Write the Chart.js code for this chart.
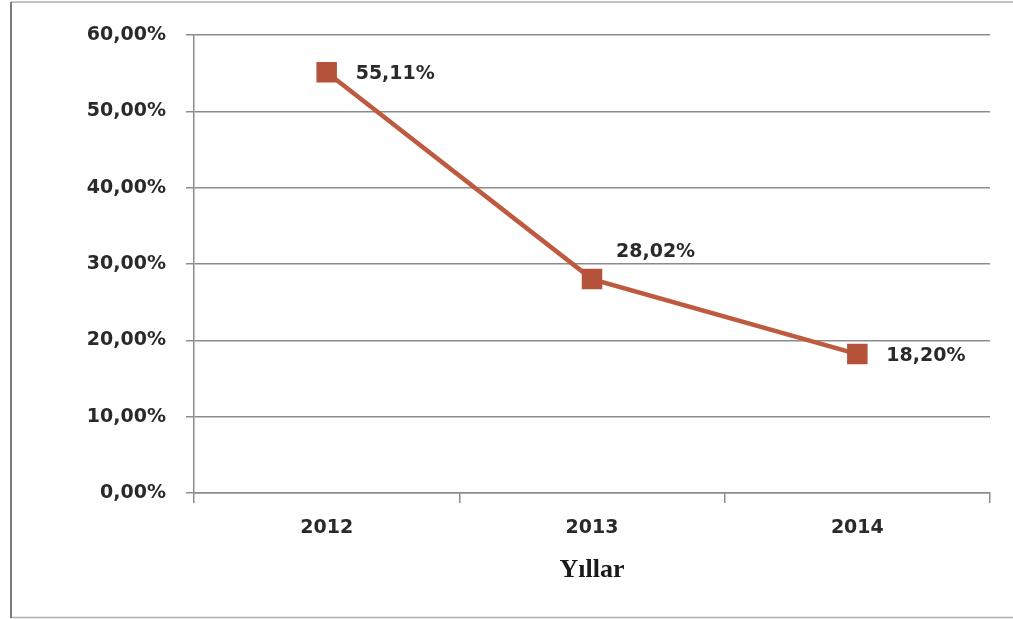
<!DOCTYPE html>
<html>
<head>
<meta charset="utf-8">
<title>Yıllar</title>
<script src="https://cdn.jsdelivr.net/npm/chart.js@4/dist/chart.umd.min.js"></script>
<style>
  html, body { margin: 0; padding: 0; background: #fff; }
  #wrap { position: relative; width: 1013px; height: 619px; }
</style>
</head>
<body>
<div id="wrap"><canvas id="rateChart"></canvas></div>
<script>
/* Yearly rate, line with square markers */
var YEARS = ["2012", "2013", "2014"];
var RATES = [55.11, 28.02, 18.20];
var Y_MIN = 0;
var Y_MAX = 60;
var Y_STEP = 10;
var X_TITLE = "Yıllar";

var GRID = "#8c8c8c";
var LINE = "#bd5a3f";
var MARKER = "#b4533a";
var TEXT = "#2a2a2a";
var SANS = "'DejaVu Sans', sans-serif";

function pct(v) {
  return v.toFixed(2).replace(".", ",") + "%";
}

/* outer frame around the whole chart */
var framePlugin = {
  id: "frame",
  beforeDraw: function (chart) {
    var ctx = chart.ctx;
    ctx.save();
    ctx.strokeStyle = "#b0b0b0";
    ctx.lineWidth = 1.5;
    ctx.beginPath();
    ctx.moveTo(chart.width + 2, 2);
    ctx.lineTo(11, 2);
    ctx.moveTo(11, 617.5);
    ctx.lineTo(chart.width + 2, 617.5);
    ctx.stroke();
    ctx.strokeStyle = "#7a7a7a";
    ctx.lineWidth = 2;
    ctx.beginPath();
    ctx.moveTo(11, 2);
    ctx.lineTo(11, 618);
    ctx.stroke();
    ctx.restore();
  }
};

/* value labels beside each point */
var valueLabels = {
  id: "valueLabels",
  afterDatasetsDraw: function (chart, args, opts) {
    var ctx = chart.ctx;
    var meta = chart.getDatasetMeta(0);
    ctx.save();
    ctx.font = opts.font;
    ctx.fillStyle = opts.color;
    ctx.textAlign = "left";
    ctx.textBaseline = "middle";
    meta.data.forEach(function (pt, i) {
      var off = opts.offsets[i] || [26, 0];
      ctx.fillText(pct(chart.data.datasets[0].data[i]), pt.x + off[0], pt.y + off[1]);
    });
    ctx.restore();
  }
};

new Chart(document.getElementById("rateChart"), {
  type: "line",
  data: {
    labels: YEARS,
    datasets: [{
      data: RATES,
      borderColor: LINE,
      borderWidth: 4.5,
      tension: 0,
      pointStyle: "rect",
      pointRadius: 14.5,
      pointHoverRadius: 14.5,
      pointBackgroundColor: MARKER,
      pointBorderColor: MARKER,
      pointBorderWidth: 0
    }]
  },
  plugins: [framePlugin, valueLabels],
  options: {
    responsive: true,
    maintainAspectRatio: false,
    animation: false,
    layout: { padding: { top: 35, right: 23, bottom: 0, left: 0 } },
    plugins: {
      legend: { display: false },
      tooltip: { enabled: false },
      valueLabels: {
        font: "bold 19px " + SANS,
        color: TEXT,
        offsets: [[29, 2], [24, -27], [29, 2]]
      }
    },
    scales: {
      x: {
        offset: true,
        afterFit: function (s) { s.height = 126; },
        grid: {
          offset: true,
          drawOnChartArea: false,
          drawTicks: true,
          tickLength: 10,
          color: GRID,
          lineWidth: 1.5
        },
        border: { display: true, color: GRID, width: 1.5 },
        ticks: {
          color: TEXT,
          padding: 14,
          font: { family: SANS, size: 19, weight: "bold" }
        },
        title: {
          display: true,
          text: X_TITLE,
          color: "#1a1a1a",
          font: { family: "'Liberation Serif', serif", size: 26, weight: "bold" },
          padding: { top: 4, bottom: 33 }
        }
      },
      y: {
        min: Y_MIN,
        max: Y_MAX,
        afterFit: function (s) { s.width = 194; },
        grid: {
          color: GRID,
          lineWidth: 1.5,
          drawTicks: true,
          tickLength: 8
        },
        border: { display: true, color: GRID, width: 1.5 },
        ticks: {
          stepSize: Y_STEP,
          color: TEXT,
          padding: 20,
          font: { family: SANS, size: 19, weight: "bold" },
          callback: function (v) { return pct(v); }
        }
      }
    }
  }
});
</script>
</body>
</html>
